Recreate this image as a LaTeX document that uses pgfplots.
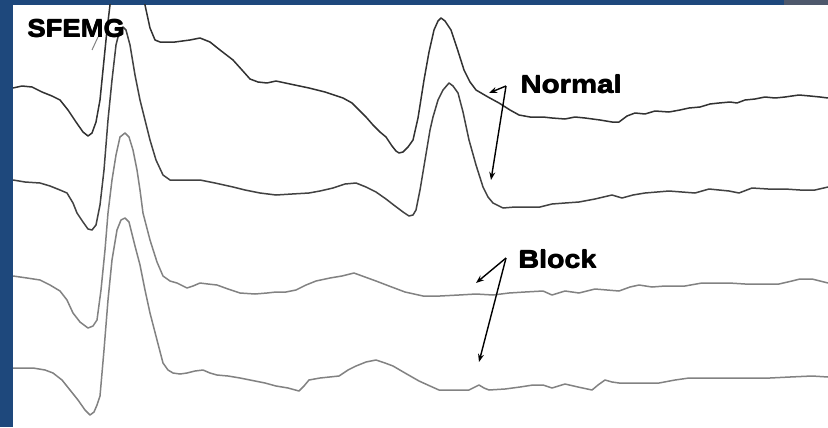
\documentclass[border=0pt]{standalone}
\usepackage{pgfplots}
\pgfplotsset{compat=1.18}
\usepackage{fontspec}
\setmainfont{Liberation Sans}
\usetikzlibrary{arrows.meta}
\definecolor{frameblue}{RGB}{30,72,124}
\definecolor{patchgray}{RGB}{78,88,108}
\definecolor{tdark}{RGB}{50,50,50}
\definecolor{tdark2}{RGB}{66,66,66}
\definecolor{tlight}{RGB}{130,130,130}
\newcommand{\heavy}[4]{%
  \node[anchor=base west, inner sep=0pt, xscale=#3] at (axis cs:#1,#2) {\fontsize{25}{25}\selectfont\bfseries #4};
  \node[anchor=base west, inner sep=0pt, xscale=#3] at (axis cs:#1+0.6,#2) {\fontsize{25}{25}\selectfont\bfseries #4};
  \node[anchor=base west, inner sep=0pt, xscale=#3] at (axis cs:#1+0.3,#2-0.5) {\fontsize{25}{25}\selectfont\bfseries #4};
}
\begin{document}
\begin{tikzpicture}[x=1bp,y=1bp]
\fill[frameblue] (0,0) rectangle (828,427);
\fill[patchgray] (784,422) rectangle (828,427);
\fill[white] (13,0) rectangle (828,422);
\begin{axis}[
  at={(13bp,0bp)}, anchor=south west,
  scale only axis, width=815bp, height=422bp,
  xmin=13, xmax=828, ymin=5, ymax=427, y dir=reverse,
  hide axis, clip=true,
]
% Trace 1 (Normal, upper)
\addplot[tdark, line width=1.5bp, line join=round] coordinates {
(13,88)(22,86)(32,87)(42,92)(52,96)(60,100)(68,110)(76,122)(83,132)(88,136)(92,133)(96,122)(100,100)(104,60)(107,30)(110,5)(113,-30)(118,-60)(125,-70)(132,-55)(140,-20)(145,5)(150,28)(155,40)(160,42)(175,42)(190,40)(200,38)(210,42)(220,50)(233,60)(242,70)(250,79)(258,82)(267,83)(276,81)(290,84)(309,88)(325,92)(343,98)(352,103)(359,110)(366,117)(373,125)(380,132)(386,137)(392,146)(396,151)(399,153)(403,152)(408,147)(413,140)(418,118)(424,80)(429,52)(434,30)(438,21)(441,18)(445,21)(451,30)(457,48)(464,70)(470,82)(476,90)(488,97)(499,103)(510,110)(519,115)(530,117)(543,117)(552,118)(565,119)(575,117)(585,118)(600,120)(612,122)(619,122)(627,116)(635,113)(645,114)(655,111)(669,112)(680,110)(689,108)(700,107)(710,104)(719,103)(730,102)(737,103)(745,100)(755,99)(765,97)(775,98)(785,97)(792,96)(799,95)(810,96)(820,97)(828,98)
};
% Trace 2 (Normal, lower)
\addplot[tdark2, line width=1.5bp, line join=round] coordinates {
(13,180)(25,182)(40,183)(50,186)(60,190)(67,193)(73,203)(77,213)(83,222)(88,229)(92,230)(96,225)(100,205)(104,170)(108,120)(112,80)(116,45)(120,29)(123,27)(126,30)(130,45)(135,75)(140,100)(145,120)(150,140)(156,160)(163,175)(170,180)(185,180)(200,180)(215,183)(233,187)(245,190)(260,193)(276,195)(292,194)(309,193)(320,191)(333,188)(345,184)(356,183)(366,187)(376,192)(386,199)(395,206)(403,212)(409,216)(413,215)(416,210)(420,190)(425,160)(430,130)(433,117)(438,100)(443,90)(449,83)(453,86)(458,93)(463,112)(469,140)(476,165)(483,187)(488,197)(493,203)(503,208)(515,207)(526,207)(540,207)(552,204)(565,203)(579,202)(595,199)(612,195)(622,198)(633,195)(645,193)(657,192)(669,191)(682,192)(695,193)(709,189)(719,190)(729,191)(739,193)(752,188)(768,189)(785,189)(800,190)(815,190)(828,187)
};
% Trace 3 (Block, upper)
\addplot[tlight, line width=1.5bp, line join=round] coordinates {
(13,276)(27,278)(40,280)(50,285)(60,291)(67,300)(73,313)(80,322)(88,328)(93,326)(97,320)(101,290)(105,250)(108,213)(112,180)(116,155)(120,137)(125,133)(129,137)(133,150)(137,170)(140,190)(143,213)(150,240)(157,262)(163,276)(170,281)(177,283)(187,288)(193,286)(200,283)(208,284)(217,285)(228,289)(240,293)(255,294)(267,293)(276,292)(286,292)(296,290)(306,285)(316,281)(330,278)(342,276)(354,273)(365,277)(376,281)(389,286)(405,292)(423,296)(440,296)(459,295)(476,294)(493,295)(509,293)(525,292)(543,291)(552,295)(565,291)(579,293)(595,289)(607,290)(619,291)(630,287)(639,285)(652,287)(665,286)(685,286)(702,283)(715,283)(729,283)(745,284)(760,284)(779,284)(792,281)(800,279)(812,279)(820,281)(828,283)
};
% Trace 4 (Block, lower)
\addplot[tlight, line width=1.5bp, line join=round] coordinates {
(13,368)(33,368)(45,370)(53,373)(62,380)(70,390)(78,400)(85,410)(90,415)(94,412)(97,405)(100,396)(104,350)(108,300)(112,260)(117,230)(121,220)(125,218)(129,222)(135,246)(140,265)(145,290)(150,313)(157,340)(163,363)(168,370)(173,373)(180,374)(187,373)(195,371)(203,370)(210,373)(217,375)(228,376)(240,378)(255,381)(265,383)(276,386)(288,388)(299,391)(304,386)(309,380)(320,378)(339,376)(348,370)(356,366)(366,362)(376,360)(385,363)(393,366)(405,373)(419,381)(430,386)(439,390)(455,390)(469,390)(479,385)(484,388)(489,390)(505,389)(520,387)(533,385)(543,385)(552,388)(565,384)(578,387)(592,390)(598,385)(605,380)(612,382)(619,383)(640,383)(659,383)(675,380)(689,378)(710,378)(730,378)(752,378)(770,378)(790,377)(812,376)(828,377)
};
% small stroke under the label
\draw[tlight, line width=1bp] (axis cs:92,50) -- (axis cs:98,37);
% labels
\heavy{27}{37}{1.1}{SFEMG}
\heavy{520}{93}{1.18}{Normal}
\heavy{518}{268}{1.15}{Block}
% arrows
\draw[black, line width=1.4bp, -{Stealth[length=8bp,width=6bp]}] (axis cs:506,86) -- (axis cs:489,93);
\draw[black, line width=1.4bp, -{Stealth[length=8bp,width=6bp]}] (axis cs:506,86) -- (axis cs:491,180);
\draw[black, line width=1.4bp, -{Stealth[length=8bp,width=6bp]}] (axis cs:506,258) -- (axis cs:476,283);
\draw[black, line width=1.4bp, -{Stealth[length=8bp,width=6bp]}] (axis cs:506,258) -- (axis cs:479,362);
\end{axis}
\pgfresetboundingbox
\path (0,0) rectangle (828,427);
\end{tikzpicture}
\end{document}
